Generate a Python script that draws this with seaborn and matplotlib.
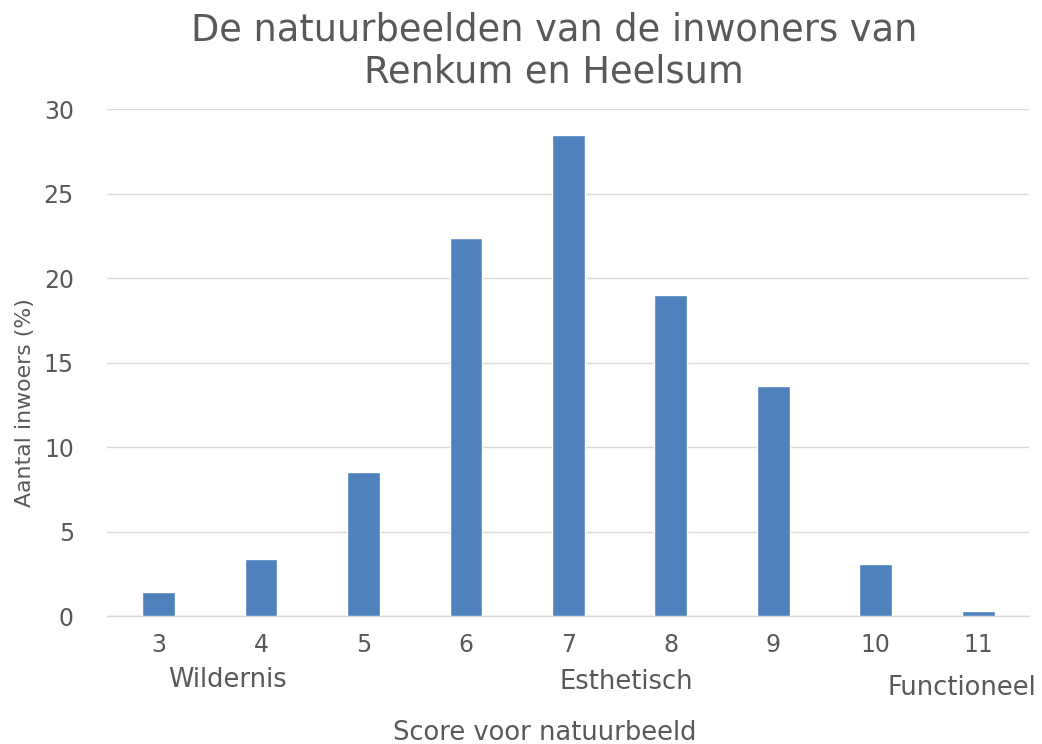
import numpy as np
import pandas as pd
import seaborn as sns
from matplotlib import pyplot as plt

# data
scores = ["3", "4", "5", "6", "7", "8", "9", "10", "11"]
percent = [1.4, 3.4, 8.5, 22.4, 28.5, 19.0, 13.6, 3.1, 0.3]
yticks = [0, 5, 10, 15, 20, 25, 30]

grey = "#595959"
bar_colour = "#4F81BD"

sns.set_style("white")
plt.rcParams['font.family'] = ['DejaVu Sans']

df = pd.DataFrame({"score": scores, "pct": percent})

fig, ax = plt.subplots(figsize=(10.42, 7.44), dpi=100)
fig.subplots_adjust(left=0.103, right=0.988, top=0.853, bottom=0.172)

sns.barplot(ax=ax, data=df, x="score", y="pct", color=bar_colour,
            width=0.32, saturation=1, zorder=3)

ax.set_ylim(0, 30)
ax.set_xlim(-0.5, 8.5)
ax.set_yticks(yticks)
ax.yaxis.grid(True, color="#D9D9D9", linewidth=1, zorder=0)
ax.set_axisbelow(True)
for s in ["top", "right", "left"]:
    ax.spines[s].set_visible(False)
ax.spines["bottom"].set_color("#D9D9D9")
ax.spines["bottom"].set_linewidth(1)
ax.tick_params(axis="x", length=0, labelsize=17, colors=grey, pad=12)
ax.tick_params(axis="y", length=0, labelsize=17, colors=grey, pad=24)

ax.set_xlabel("")
ax.set_ylabel("")
fig.text(25 / 1042, 1 - 403 / 744, "Aantal inwoers (%)", rotation=90,
         ha="center", va="center", fontsize=15.8, color=grey)
fig.text(545 / 1042, 1 - 733 / 744, "Score voor natuurbeeld", ha="center",
         va="center", fontsize=18.5, color=grey)

# category notes under the axis
fig.text(228 / 1042, 1 - 680 / 744, "Wildernis", ha="center", va="center",
         fontsize=18.5, color=grey)
fig.text(626 / 1042, 1 - 682 / 744, "Esthetisch", ha="center", va="center",
         fontsize=18.5, color=grey)
fig.text(962 / 1042, 1 - 688 / 744, "Functioneel", ha="center", va="center",
         fontsize=18.5, color=grey)

fig.text(554 / 1042, 1 - 30 / 744, "De natuurbeelden van de inwoners van",
         ha="center", va="center", fontsize=26.5, color=grey)
fig.text(554 / 1042, 1 - 72 / 744, "Renkum en Heelsum",
         ha="center", va="center", fontsize=26.5, color=grey)

plt.savefig("out.png", dpi=100)
